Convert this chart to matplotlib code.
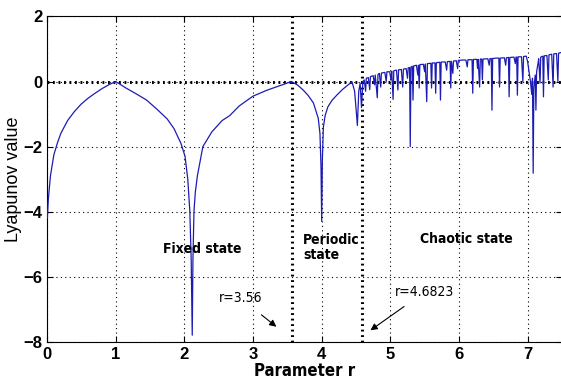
import numpy as np
import matplotlib
matplotlib.use('Agg')
import matplotlib.pyplot as plt

# fixed state: r < 1
r_fix1 = [0.005, 0.02, 0.05, 0.1, 0.15, 0.2, 0.3, 0.4, 0.5, 0.6, 0.7, 0.8, 0.9, 1.0]
l_fix1 = [-4.2, -3.6, -2.9, -2.25, -1.9, -1.6, -1.2, -0.92, -0.69, -0.51, -0.36, -0.22, -0.1, 0.0]

# fixed state: 1 < r < 3.56
r_fix2 = [1.0, 1.15, 1.3, 1.45, 1.6, 1.75, 1.85, 1.95, 2.01, 2.05, 2.08, 2.1, 2.115,
          2.125, 2.14, 2.16, 2.19, 2.27, 2.4, 2.55, 2.66, 2.8, 3.0, 3.2, 3.4, 3.56]
l_fix2 = [0.0, -0.2, -0.38, -0.57, -0.85, -1.15, -1.45, -1.9, -2.3, -3.0, -4.0, -5.5, -7.8,
          -5.5, -4.0, -3.4, -2.9, -2.0, -1.55, -1.2, -1.05, -0.75, -0.45, -0.27, -0.12, 0.0]

# periodic state
r_per = [3.56, 3.65, 3.73, 3.8, 3.88, 3.95, 3.975, 3.99, 4.0, 4.01, 4.025, 4.05, 4.09, 4.15,
         4.22, 4.3, 4.41, 4.44, 4.48, 4.52, 4.54, 4.56, 4.58, 4.6]
l_per = [0.0, -0.11, -0.26, -0.42, -0.66, -1.13, -1.6, -2.6, -4.3, -2.4, -1.4, -1.05, -0.78, -0.58,
         -0.42, -0.25, -0.06, 0.0, -0.3, -1.35, -0.3, -0.05, -0.8, 0.0]

# chaotic state
r_cha = [4.62, 4.64, 4.65, 4.68, 4.70, 4.71, 4.75, 4.77, 4.78, 4.81, 4.82, 4.84, 4.86, 4.87,
         4.92, 4.94, 4.95,
         4.99, 5.01, 5.02, 5.04, 5.05, 5.09, 5.11, 5.12, 5.16, 5.18, 5.19, 5.23, 5.25, 5.26,
         5.28, 5.29, 5.30, 5.32, 5.33, 5.34, 5.38, 5.40, 5.41, 5.42, 5.43, 5.48, 5.50, 5.51,
         5.53, 5.54, 5.59, 5.60, 5.61, 5.65, 5.66, 5.67, 5.72, 5.73, 5.74, 5.80, 5.82, 5.83,
         5.87, 5.88, 5.89, 5.91, 5.92, 5.96, 5.98, 5.99, 6.05, 6.10, 6.12, 6.13, 6.19, 6.20,
         6.21, 6.26, 6.27, 6.28, 6.30, 6.31, 6.33, 6.34, 6.35, 6.42, 6.44, 6.45, 6.47, 6.48,
         6.49, 6.55, 6.58, 6.59, 6.60, 6.66, 6.68, 6.69, 6.72, 6.73, 6.74, 6.80, 6.82, 6.83,
         6.84, 6.85, 6.86, 6.91, 6.93, 6.94, 6.98, 7.0, 7.02, 7.04, 7.06, 7.07, 7.08, 7.09,
         7.11, 7.12, 7.13, 7.15, 7.16, 7.18, 7.19, 7.22, 7.23, 7.24, 7.28, 7.30, 7.31, 7.35,
         7.37, 7.38, 7.42, 7.44, 7.45, 7.5]
l_cha = [0.05, -0.3, 0.1, 0.12, -0.25, 0.15, 0.18, -0.1, 0.2, -0.5, 0.22, 0.25, -0.17, 0.26,
         0.28, 0.0, 0.3,
         0.3, 0.05, 0.32, -0.55, 0.33, 0.35, -0.26, 0.36, 0.37, -0.17, 0.38, 0.4, 0.1, 0.42,
         0.43, -2.0, 0.44, 0.47, -0.57, 0.48, 0.5, 0.2, 0.5, -0.2, 0.52, 0.53, 0.3, 0.54,
         -0.62, 0.55, 0.56, -0.2, 0.57, 0.57, -0.36, 0.58, 0.59, -0.57, 0.6, 0.6, 0.35, 0.61,
         0.62, -0.2, 0.62, 0.25, 0.63, 0.64, 0.4, 0.65, 0.66, 0.66, 0.45, 0.67, 0.67, -0.36,
         0.68, 0.68, 0.4, 0.68, -0.17, 0.69, 0.69, 0.05, 0.69, 0.7, 0.5, 0.7, 0.71, -0.88,
         0.71, 0.72, 0.72, -0.17, 0.72, 0.73, 0.5, 0.73, 0.74, -0.47, 0.74, 0.75, 0.55, 0.75,
         0.75, -0.42, 0.76, 0.76, 0.0, 0.77, 0.78, 0.6, 0.3, 0.0, -0.4, 0.1, -2.82, -0.2,
         0.2, -0.88, 0.3, 0.55, 0.7, -0.05, 0.75, 0.78, -0.47, 0.79, 0.8, 0.05, 0.82, 0.84,
         -0.17, 0.85, 0.86, 0.0, 0.87, 0.9]

# dotted marker lines (positions as drawn in the picture)
r_lines = [3.57, 4.59]
xticks = [0, 1, 2, 3, 4, 5, 6, 7]
yticks = [-8, -6, -4, -2, 0, 2]

plt.rcParams['font.family'] = ['Liberation Sans', 'DejaVu Sans']
cond = dict(family='DejaVu Sans', fontstretch='condensed', fontweight='bold')

fig = plt.figure(figsize=(5.61, 3.85), dpi=100)
ax = fig.add_axes([0.0838, 0.1125, 0.918, 0.8447])

line_col = '#1c1cb4'
r_all = r_fix1 + r_fix2[1:] + r_per[1:] + r_cha
l_all = l_fix1 + l_fix2[1:] + l_per[1:] + l_cha
ax.plot(r_all, l_all, color=line_col, linewidth=0.9, zorder=3)

ax.axhline(0, color='black', linestyle=(0, (0.6, 1.2)), linewidth=2.2, zorder=2)
for r in r_lines:
    ax.axvline(r, color='black', linestyle=(0, (0.6, 1.2)), linewidth=2.2, zorder=2)

ax.set_xlim(0, 7.5)
ax.set_ylim(-8, 2)
ax.set_xticks(xticks)
ax.set_yticks(yticks)
ax.tick_params(direction='in', length=4, labelsize=12, top=True, right=True)
for lab in ax.get_xticklabels() + ax.get_yticklabels():
    lab.set_fontweight('bold')
ax.grid(True, color='black', linestyle=(0, (1, 3)), linewidth=0.8)

ax.set_xlabel('Parameter r', fontsize=12, labelpad=0, **cond)
ax.set_ylabel('Lyapunov value', fontsize=13, labelpad=1)

ax.text(1.69, -5.15, 'Fixed state', fontsize=10, va='center', **cond)
ax.text(3.73, -5.1, 'Periodic\nstate', fontsize=10, va='center', linespacing=1.1, **cond)
ax.text(5.43, -4.85, 'Chaotic state', fontsize=10, va='center', **cond)

ax.annotate('r=3.56', xy=(3.34, -7.54), xytext=(2.5, -6.66), fontsize=10, va='center',
            family='DejaVu Sans', fontstretch='condensed',
            arrowprops=dict(arrowstyle='-|>', color='black', lw=0.8,
                            shrinkA=8, shrinkB=0, mutation_scale=10))
ax.annotate('r=4.6823', xy=(4.71, -7.65), xytext=(5.07, -6.47), fontsize=10, va='center',
            family='DejaVu Sans', fontstretch='condensed',
            arrowprops=dict(arrowstyle='-|>', color='black', lw=0.8,
                            shrinkA=6, shrinkB=0, mutation_scale=10))

fig.savefig('out.png', dpi=100)
